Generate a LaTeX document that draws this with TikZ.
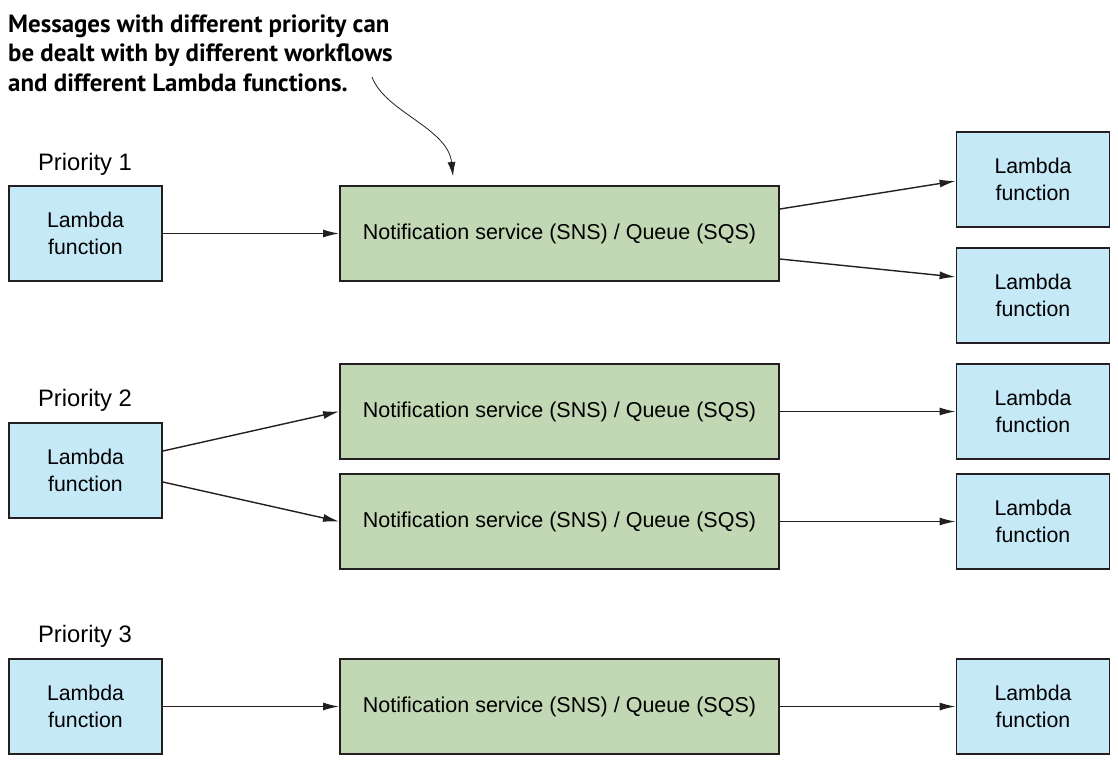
\documentclass[tikz,border=0pt]{standalone}
\usepackage{fontspec}
\setmainfont{Liberation Sans}
\newfontfamily\notefont{PT Sans}
\usetikzlibrary{arrows.meta}
\definecolor{lamfill}{HTML}{C6E9F8}
\definecolor{snsfill}{HTML}{C2D8B4}
\definecolor{edge}{HTML}{231F20}
\begin{document}
\begin{tikzpicture}[x=1pt,y=-1pt,
  lam/.style={draw=edge,line width=1.8pt,fill=lamfill,minimum width=153pt,minimum height=95pt,inner sep=0pt,align=center,font=\fontsize{21.3}{27}\selectfont},
  sns/.style={draw=edge,line width=1.8pt,fill=snsfill,minimum width=439pt,minimum height=95pt,inner sep=0pt,font=\fontsize{21.5}{24}\selectfont},
  conn/.style={draw=edge,line width=1.4pt,-{Latex[length=16pt,width=8pt]}},
  prio/.style={font=\fontsize{23.8}{26}\selectfont,anchor=center},
  note/.style={font=\notefont\bfseries\fontsize{24.9}{29.5}\selectfont,align=left,anchor=north west,inner sep=0pt}]
\useasboundingbox (0,0) rectangle (1118,761);
\fill[white] (0,0) rectangle (1118,761);

\node[note] (note) at (8,14.5) {Messages with different priority can\\be dealt with by different workflows\\and different Lambda functions.};

% Priority 1
\node[prio] (p1) at (85,164) {Priority 1};
\node[lam] (l1) at (85.5,233.5) {Lambda\\function};
\node[sns] (s1) at (559.5,233.5) {\raisebox{-1.5pt}{Notification service (SNS) / Queue (SQS)}};
\node[lam] (r1a) at (1033,179.5) {Lambda\\function};
\node[lam] (r1b) at (1033,295.5) {Lambda\\function};

% Priority 2
\node[prio] (p2) at (85,400) {Priority 2};
\node[lam] (l2) at (85.5,470.5) {Lambda\\function};
\node[sns] (s2a) at (559.5,411.5) {\raisebox{-1.5pt}{Notification service (SNS) / Queue (SQS)}};
\node[sns] (s2b) at (559.5,521.5) {\raisebox{-1.5pt}{Notification service (SNS) / Queue (SQS)}};
\node[lam] (r2a) at (1033,411.5) {Lambda\\function};
\node[lam] (r2b) at (1033,521.5) {Lambda\\function};

% Priority 3
\node[prio] (p3) at (85,636) {Priority 3};
\node[lam] (l3) at (85.5,706.5) {Lambda\\function};
\node[sns] (s3) at (559.5,706.5) {\raisebox{-1.5pt}{Notification service (SNS) / Queue (SQS)}};
\node[lam] (r3) at (1033,706.5) {Lambda\\function};

% connectors
\draw[conn] (l1) -- (s1);
\draw[conn] ([yshift=24.5pt]s1.east) -- ([yshift=-1.5pt]r1a.west);
\draw[conn] ([yshift=-25.5pt]s1.east) -- ([yshift=18.5pt]r1b.west);

\draw[conn] ([yshift=19.5pt]l2.east) -- (s2a.west);
\draw[conn] ([yshift=-11.5pt]l2.east) -- (s2b.west);
\draw[conn] (s2a) -- (r2a);
\draw[conn] (s2b) -- (r2b);

\draw[conn] (l3) -- (s3);
\draw[conn] (s3) -- (r3);

\coordinate (nstart) at (372,77);
\coordinate (nend) at (453,176);
\draw[conn,line width=0.8pt,-{Latex[length=14pt,width=8pt]}] (nstart) .. controls (385,112) and (448,128) .. (nend);
\end{tikzpicture}
\end{document}
